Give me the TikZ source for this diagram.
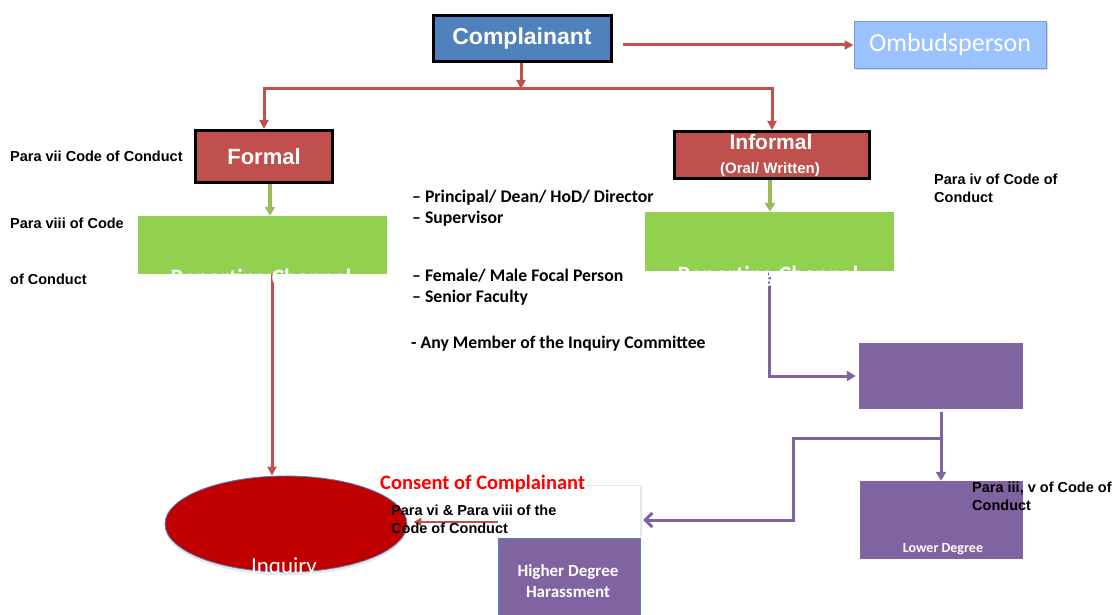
\documentclass[tikz,border=0pt]{standalone}
\usepackage{fontspec}
\setmainfont{Liberation Sans}
\newfontfamily\calib{Carlito}
\usetikzlibrary{arrows.meta,shadows,shapes.geometric}

\definecolor{cBlue}{HTML}{4F81BD}
\definecolor{cRed}{HTML}{C0504D}
\definecolor{cOmbFill}{HTML}{99C2FF}
\definecolor{cOmbLine}{HTML}{6F9CD9}
\definecolor{cGreen}{HTML}{92D050}
\definecolor{cGreenArr}{HTML}{9BBB59}
\definecolor{cPurple}{HTML}{8064A2}
\definecolor{cInq}{HTML}{C00000}
\definecolor{cConsent}{HTML}{FF0000}

\begin{document}
\begin{tikzpicture}[x=1pt,y=-1pt,
  blackbox/.style={draw=black,line width=3pt,inner sep=0pt,text=white},
  flatbox/.style={inner sep=0pt,draw=none},
  redline/.style={draw=cRed,line width=3pt},
  redarr/.style={redline,-{Triangle[length=9pt,width=9pt]}},
  greenarr/.style={draw=cGreenArr,line width=3.5pt,-{Triangle[length=9pt,width=10pt]}},
  purpline/.style={draw=cPurple,line width=3pt},
  purparr/.style={purpline,-{Triangle[length=9pt,width=10pt]}},
  lbl/.style={anchor=base west,inner sep=0pt,font=\fontsize{14.5}{17.5}\selectfont\bfseries},
  midtxt/.style={anchor=base west,inner sep=0pt,font=\calib\fontsize{17.7}{20}\selectfont\bfseries},
  whitetxt/.style={inner sep=0pt,text=white}
]
\useasboundingbox (0,0) rectangle (1117,615);

% boxes
\node[blackbox,fill=cBlue,minimum width=178pt,minimum height=46pt,
      font=\bfseries\fontsize{23}{27}\selectfont] (comp) at (522,39) {\raisebox{-1.5pt}{Complainant}};
\node[fill=cOmbFill,draw=cOmbLine,line width=1pt,minimum width=192pt,minimum height=47pt,
      inner sep=0pt,text=white,font=\calib\fontsize{26}{30}\selectfont,
      drop shadow={opacity=0.3,shadow xshift=1.5pt,shadow yshift=-2pt}] (omb) at (950,45) {Ombudsperson};
\node[blackbox,fill=cRed,minimum width=137pt,minimum height=52pt,
      font=\bfseries\fontsize{22}{26}\selectfont] (formal) at (264,156.5) {Formal};
\node[blackbox,fill=cRed,minimum width=195pt,minimum height=47pt] (informal) at (772,155) {};
\node[whitetxt,font=\bfseries\fontsize{21}{24}\selectfont] (infT1) at (771,142) {Informal};
\node[whitetxt,font=\bfseries\fontsize{15}{18}\selectfont] (infT2) at (770,170) {(Oral/ Written)};

\node[flatbox,fill=cGreen,minimum width=249pt,minimum height=58pt] (gL) at (262.5,245) {};
\node[flatbox,fill=cGreen,minimum width=249pt,minimum height=59pt] (gR) at (769.5,241.5) {};

\node[flatbox,fill=cPurple,minimum width=164pt,minimum height=66pt] (pU) at (941,376) {};
\node[flatbox,fill=cPurple,minimum width=163pt,minimum height=78pt] (lower) at (941.5,520) {};
\node[flatbox,fill=white,minimum width=142pt,minimum height=52pt,
      drop shadow={opacity=0.18,shadow xshift=2pt,shadow yshift=1pt}] (higherW) at (569,512) {};
\node[fill=cPurple,draw=cBlue,line width=0.6pt,inner sep=0pt,minimum width=142pt,minimum height=77pt] (higher) at (569,576.5) {};

\node[ellipse,fill=cInq,draw=cBlue,line width=0.8pt,minimum width=242pt,minimum height=96pt,inner sep=0pt,
      drop shadow={opacity=0.2,shadow xshift=0pt,shadow yshift=-3pt}] (inq) at (286,524) {};

% connectors
\coordinate (split) at (521,89);
\draw[redarr] ([xshift=10pt,yshift=-6pt]comp.east) -- (omb.west);
\draw[redarr] (split) -| (formal.north);
\draw[redarr] (split) -| (informal.north);
\draw[redarr] ([xshift=-1pt]comp.south) -- (split);

\draw[greenarr] ([xshift=6pt]formal.south) -- ([xshift=6pt]formal.south |- gL.north);
\draw[greenarr] ([xshift=-2pt]informal.south) -- ([xshift=-2pt]informal.south |- gR.north);

\draw[redarr] ([xshift=9.5pt]gL.south) -- ([xshift=-14pt]inq.north);
\draw[purparr] ([xshift=-0.5pt]gR.south) |- ([xshift=-3pt]pU.west);
\draw[purparr] ([yshift=-3pt]pU.south) -- (pU.south |- lower.north);

\coordinate (brA) at (941,438);
\coordinate (brB) at (793,438);
\draw[purpline,-{Straight Barb[length=7pt,width=14pt]}] (brA) -- (brB) |- ([xshift=3pt,yshift=-8pt]higherW.east);

\draw[draw=cRed,line width=2.6pt,-{Triangle[length=8pt,width=8pt]}] ([yshift=-10pt]higherW.west) -- ([xshift=6pt,yshift=2pt]inq.east);

% partially hidden texts
\node[whitetxt,anchor=base,font=\calib\bfseries\fontsize{23.5}{26}\selectfont] (rcL) at (261,285) {Reporting Channel};
\node[whitetxt,anchor=base,font=\calib\bfseries\fontsize{23.5}{26}\selectfont] (rcR) at (768,282) {Reporting Channel};
\node[whitetxt,anchor=base,font=\calib\fontsize{23}{26}\selectfont] (inqT) at (284,573) {Inquiry};
\node[whitetxt,align=center,font=\calib\bfseries\fontsize{17}{21}\selectfont] (hT) at (568,581) {Higher Degree\\Harassment};
\node[whitetxt,anchor=base,font=\calib\bfseries\fontsize{14}{16}\selectfont] (lT) at (943,552) {Lower Degree};

% labels
\node[lbl] (l1) at (10,162) {Para vii Code of Conduct};
\node[lbl] (l2) at (10,229) {Para viii of Code};
\node[lbl] (l3) at (10,284) {of Conduct};
\node[lbl,anchor=north west,align=left] (l4) at (934,174) {Para iv of Code of\\Conduct};
\node[lbl,anchor=north west,align=left] (l5) at (972,482) {Para iii, v of Code of\\Conduct};
\node[lbl,anchor=north west,align=left] (l6) at (391,505) {Para vi \& Para viii of the\\Code of Conduct};
\node[anchor=base west,inner sep=0pt,text=cConsent,font=\calib\bfseries\fontsize{20.5}{24}\selectfont] (cons) at (380,489) {Consent of Complainant};

\node[midtxt] (m1) at (412,203) {– Principal/ Dean/ HoD/ Director};
\node[midtxt] (m2) at (412,223) {– Supervisor};
\node[midtxt] (m3) at (412,281) {– Female/ Male Focal Person};
\node[midtxt] (m4) at (412,302) {– Senior Faculty};
\node[midtxt] (m5) at (411,348) {- Any Member of the Inquiry Committee};
\end{tikzpicture}
\end{document}
